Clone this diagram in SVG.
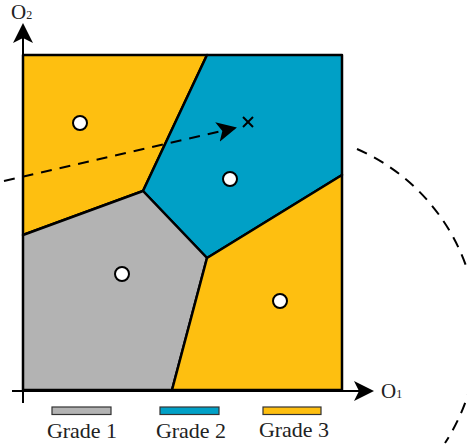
<svg xmlns="http://www.w3.org/2000/svg" width="467" height="447" viewBox="0 0 467 447">
<style>
.cell{stroke:#000;stroke-width:2.5;stroke-linejoin:round}
.g1{fill:#B3B3B3}.g2{fill:#00A0C6}.g3{fill:#FEBF10}
.pt{fill:#fff;stroke:#000;stroke-width:2}
.ax{stroke:#000;stroke-width:2;fill:none}
.dash{stroke:#000;stroke-width:2;fill:none;stroke-dasharray:11 8}
.lab{font-family:"Liberation Serif",serif;fill:#222}
.leg{stroke:#333;stroke-width:1.2}
</style>
<defs>
<marker id="ah" markerUnits="userSpaceOnUse" markerWidth="20" markerHeight="20" viewBox="0 0 20 20" refX="18" refY="10" orient="auto">
<path d="M0,0 L20,10 L0,20 L5,10 Z" fill="#000"/>
</marker>
</defs>
<g id="cells">
<polygon id="cell-yellow-left" class="cell g3" points="23,55 207,55 143,191 23,235"/>
<polygon id="cell-blue" class="cell g2" points="207,55 342,55 342,175 207,258 143,191"/>
<polygon id="cell-gray" class="cell g1" points="23,235 143,191 207,258 172,390 23,390"/>
<polygon id="cell-yellow-right" class="cell g3" points="342,175 342,390 172,390 207,258"/>
</g>
<g id="points">
<circle class="pt" cx="80" cy="123" r="7"/>
<circle class="pt" cx="230" cy="179" r="7"/>
<circle class="pt" cx="122" cy="274" r="7"/>
<circle class="pt" cx="280" cy="301" r="7"/>
</g>
<g id="connectors">
<line class="ax" x1="12" y1="391" x2="372" y2="391" marker-end="url(#ah)"/>
<line class="ax" x1="23" y1="403" x2="23" y2="25" marker-end="url(#ah)"/>
<line class="dash" x1="4" y1="181" x2="235" y2="128" marker-end="url(#ah)"/>
<path class="dash" d="M357,149 A201,201 0 0 1 445,443"/>
</g>
<g id="cross">
<line class="ax" x1="243" y1="117" x2="253" y2="127"/>
<line class="ax" x1="253" y1="117" x2="243" y2="127"/>
</g>
<g id="labels">
<text class="lab" x="11" y="19" font-size="21">O<tspan font-size="12">2</tspan></text>
<text class="lab" x="381" y="398" font-size="21">O<tspan font-size="12">1</tspan></text>
</g>
<g id="legend">
<rect class="leg g1" x="52" y="407" width="59" height="7.5"/>
<rect class="leg g2" x="160" y="407" width="59" height="7.5"/>
<rect class="leg g3" x="263" y="407" width="58" height="7.5"/>
<text class="lab" x="82" y="438" font-size="22" text-anchor="middle">Grade 1</text>
<text class="lab" x="191" y="438" font-size="22" text-anchor="middle">Grade 2</text>
<text class="lab" x="294" y="437" font-size="22" text-anchor="middle">Grade 3</text>
</g>
</svg>
